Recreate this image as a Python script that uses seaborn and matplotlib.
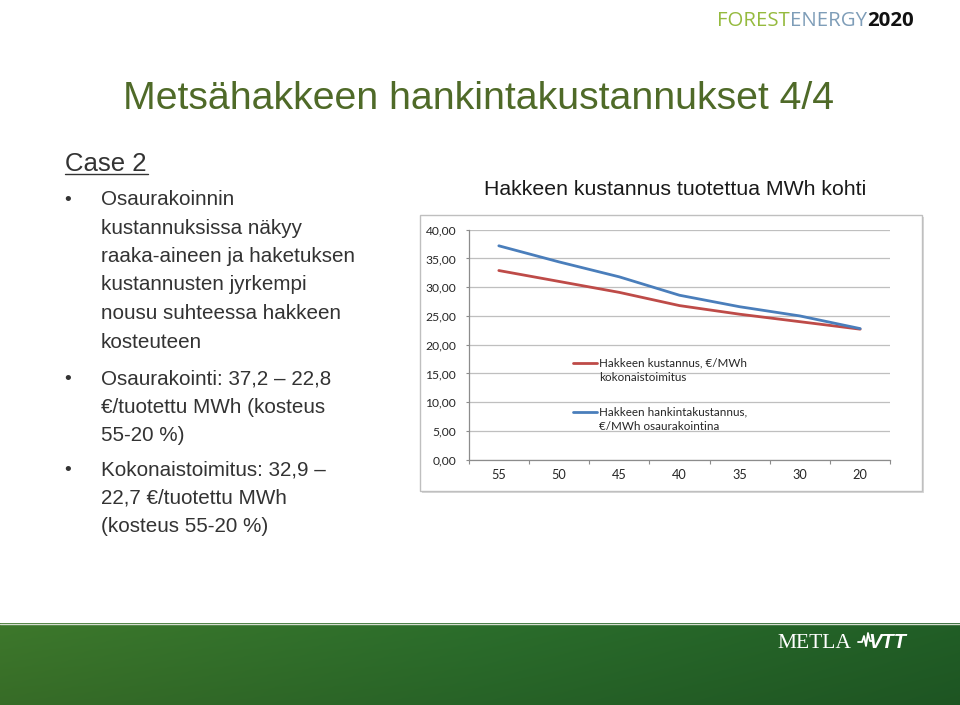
import numpy as np
import pandas as pd
import seaborn as sns
import matplotlib
matplotlib.use("Agg")
import matplotlib.pyplot as plt
from matplotlib.lines import Line2D
from matplotlib.patches import Rectangle

# ---------------- data ----------------
moisture = ["55", "50", "45", "40", "35", "30", "20"]
kokonaistoimitus = [32.9, 31.0, 29.1, 26.8, 25.3, 24.0, 22.7]
osaurakointi = [37.2, 34.4, 31.8, 28.6, 26.6, 25.0, 22.8]
series_labels = ["Hakkeen kustannus, €/MWh\nkokonaistoimitus",
                 "Hakkeen hankintakustannus,\n€/MWh osaurakointina"]
series_colors = ["#BE4B48", "#4A7EBB"]
y_ticks = [0, 5, 10, 15, 20, 25, 30, 35, 40]

slide_title = "Metsähakkeen hankintakustannukset 4/4"
case_title = "Case 2"
chart_title = "Hakkeen kustannus tuotettua MWh kohti"
bullets = [
    ["Osaurakoinnin", "kustannuksissa näkyy", "raaka-aineen ja haketuksen",
     "kustannusten jyrkempi", "nousu suhteessa hakkeen", "kosteuteen"],
    ["Osaurakointi: 37,2 – 22,8", "€/tuotettu MWh (kosteus", "55-20 %)"],
    ["Kokonaistoimitus: 32,9 –", "22,7 €/tuotettu MWh", "(kosteus 55-20 %)"],
]

# ---------------- setup ----------------
sns.set_theme(style="white")
plt.rcParams['font.family'] = ['Liberation Sans', 'DejaVu Sans']

W, H = 960, 705
fig = plt.figure(figsize=(W / 100, H / 100), dpi=100)
fig.patch.set_facecolor("white")


def fx(px):
    return px / W


def fy(py):
    return 1 - py / H


# ---------------- green footer ----------------
bax = fig.add_axes([0, 0, 1, (H - 623) / H])
bh, bw = 82, 960
xs = np.linspace(0, 1, bw)
ys = np.linspace(0, 1, bh)
left = np.array([0.24, 0.47, 0.17])
mid = np.array([0.17, 0.43, 0.17])
right = np.array([0.13, 0.37, 0.15])
t = xs[None, :, None]
img = np.where(t < 0.5, left * (1 - 2 * t) + mid * (2 * t),
               mid * (2 - 2 * t) + right * (2 * t - 1))
img = np.broadcast_to(img, (bh, bw, 3)).copy()
img *= (1 - 0.10 * ys[:, None, None])
bax.imshow(img, extent=[0, 960, 705, 623], aspect="auto")
bax.set_xlim(0, 960)
bax.set_ylim(705, 623)
bax.axis("off")
fig.add_artist(Line2D([0, 1], [fy(623.5)] * 2, color="#D5DDD0", lw=1))

# METLA / VTT logo
fig.text(fx(777), fy(648), "METLA", color="white", fontsize=15.5,
         family=["Liberation Serif", "DejaVu Serif"], va="baseline")
wave_x = [858, 862, 864, 866, 868, 870, 873]
wave_y = [642, 642, 636, 646, 633, 641, 641]
fig.add_artist(Line2D([fx(v) for v in wave_x], [fy(v) for v in wave_y],
                      color="white", lw=1.3))
fig.text(fx(868), fy(648), "VTT", color="white", fontsize=14.5,
         fontweight="bold", style="italic", va="baseline")

# ---------------- top-right logo ----------------
renderer = fig.canvas.get_renderer()
x_cur = 717
for part, col, wt in [("FOREST", "#95BA3E", "normal"),
                      ("ENERGY", "#7E9DB8", "normal"),
                      ("2020", "#111111", "bold")]:
    tt = fig.text(fx(x_cur), fy(26), part, color=col, fontsize=14.7,
                  family=["Open Sans", "DejaVu Sans"], fontweight=wt,
                  va="baseline")
    bb = tt.get_window_extent(renderer)
    x_cur += bb.width

# ---------------- slide texts ----------------
fig.text(fx(123), fy(109), slide_title, color="#4F6A28", fontsize=28.3,
         va="baseline")
fig.text(fx(65), fy(170.7), case_title, color="#333333", fontsize=18.5,
         va="baseline")
fig.add_artist(Line2D([fx(65), fx(148)], [fy(173.5)] * 2, color="#333333",
                      lw=1.0))

starts = [205, 384.3, 475]
for start, lines in zip(starts, bullets):
    fig.text(fx(64), fy(start), "•", color="#333333", fontsize=14,
             va="baseline")
    for i, line in enumerate(lines):
        fig.text(fx(101), fy(start + i * 28.5), line, color="#333333",
                 fontsize=14.9, va="baseline")

fig.text(fx(675), fy(195), chart_title, color="#1A1A1A", fontsize=15.3,
         ha="center", va="baseline")

# ---------------- chart frame ----------------
fig.add_artist(Rectangle((fx(422), fy(493)), 502 / W, 276 / H,
                         transform=fig.transFigure, facecolor="#D9D9D9",
                         edgecolor="none", zorder=0))
fig.add_artist(Rectangle((fx(420), fy(491)), 502 / W, 276 / H,
                         transform=fig.transFigure, facecolor="white",
                         edgecolor="#BFBFBF", lw=1, zorder=0.5))

# ---------------- chart ----------------
ax = fig.add_axes([fx(468.7), fy(459.7), (890.3 - 468.7) / W, 230 / H])
ax.set_zorder(2)
ax.patch.set_alpha(0)

positions = list(range(len(moisture)))
df = pd.DataFrame({
    "pos": positions * 2,
    "value": kokonaistoimitus + osaurakointi,
    "series": [series_labels[0]] * len(moisture) + [series_labels[1]] * len(moisture),
})
sns.lineplot(data=df, x="pos", y="value", hue="series", palette=series_colors,
             linewidth=2.0, ax=ax, legend=False, sort=False)

chart_font = ["Lato", "DejaVu Sans"]
ax.set_xlim(-0.5, len(moisture) - 0.5)
ax.set_ylim(0, 40)
ax.set_yticks(y_ticks)
ax.set_yticklabels([f"{v:.2f}".replace(".", ",") for v in y_ticks],
                   family=chart_font, fontsize=8.7, color="#262626")
ax.set_xticks(np.arange(-0.5, len(moisture)), labels=[])
ax.set_xticks(positions, minor=True)
ax.set_xticklabels(moisture, minor=True, family=chart_font, fontsize=9.2,
                   color="#262626")
ax.tick_params(axis="x", which="major", direction="out", length=3.2,
               width=0.8, color="#8C8C8C", bottom=True)
ax.tick_params(axis="x", which="minor", length=0, pad=7, bottom=True)
ax.tick_params(axis="y", direction="out", length=2.5, width=0.8,
               color="#8C8C8C", pad=6.5, left=True)
ax.grid(axis="y", color="#BFBFBF", lw=0.9)
ax.set_axisbelow(True)
for s in ["top", "right"]:
    ax.spines[s].set_visible(False)
for s in ["left", "bottom"]:
    ax.spines[s].set_color("#8C8C8C")
    ax.spines[s].set_linewidth(0.9)
ax.set_xlabel("")
ax.set_ylabel("")

# manual legend (Excel style: handle aligned with first label line)
leg_y = [362.7, 411.7]
for lab, col, y in zip(series_labels, series_colors, leg_y):
    fig.add_artist(Line2D([fx(572.7), fx(597)], [fy(y)] * 2, color=col, lw=2.0,
                          zorder=3))
    for j, part in enumerate(lab.split("\n")):
        fig.text(fx(599), fy(y + 4 + j * 14.6), part, color="#262626",
                 fontsize=8.4, family=chart_font, va="baseline", zorder=3)

fig.savefig("out.png", dpi=100)
